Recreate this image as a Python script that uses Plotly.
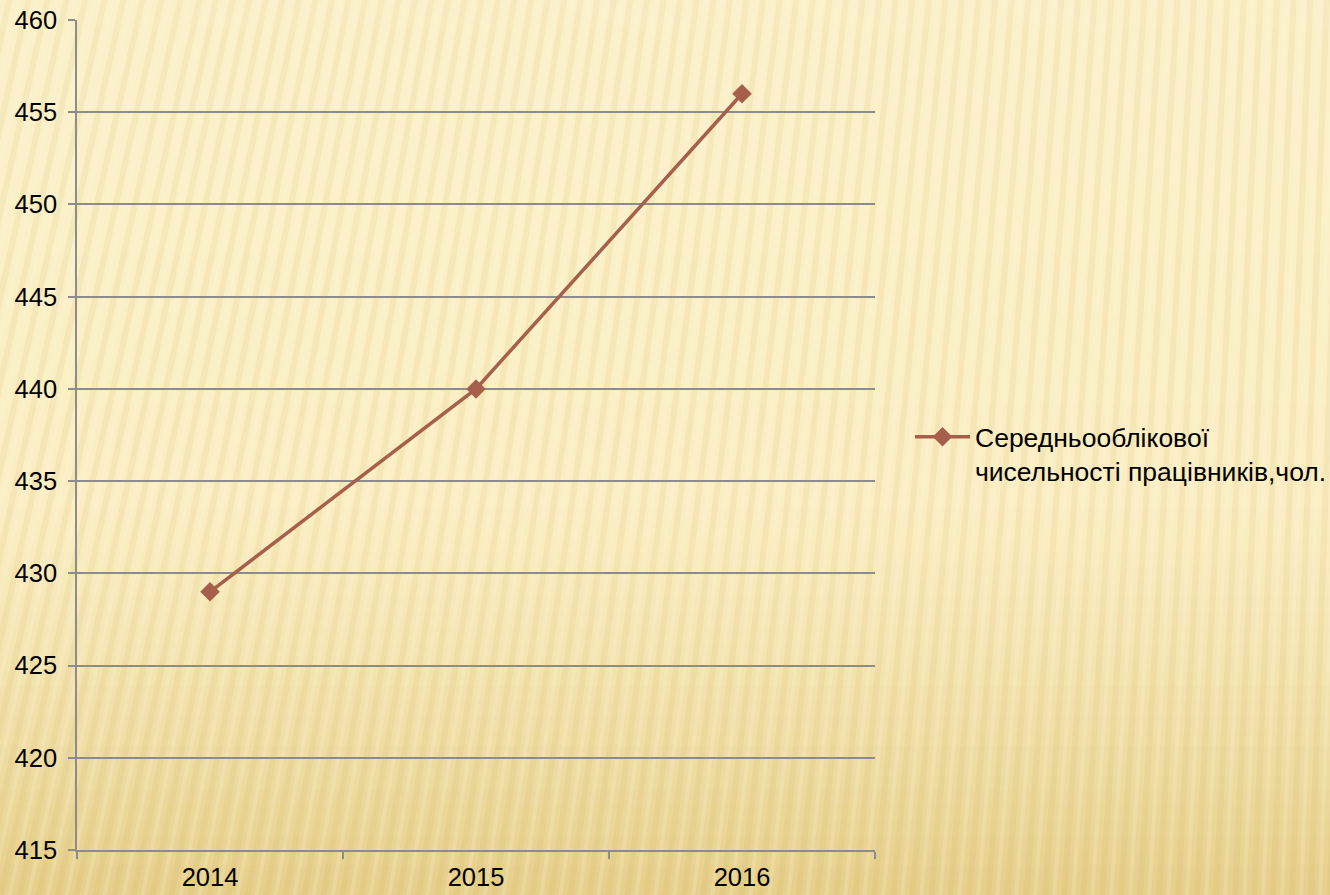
import plotly.graph_objects as go

years = ["2014", "2015", "2016"]
values = [429, 440, 456]
series_name = "Середньооблікової<br>чисельності працівників,чол."
y_ticks = [415, 420, 425, 430, 435, 440, 445, 450, 455, 460]

W, H = 1330, 895
ML, MR, MT, MB = 77, 455, 20, 45
PW, PH = W - ML - MR, H - MT - MB

def px_to_paper_x(px):
    return (px - ML) / PW

def px_to_paper_y(py):
    return (H - MB - py) / PH

def lerp(c1, c2, t):
    return tuple(round(a + (b - a) * t) for a, b in zip(c1, c2))

top = (251, 241, 201)
mid = (251, 238, 194)
bot = (230, 207, 138)

shapes = []
n = 60
for i in range(n):
    y0 = H * i / n - (3 if i == 0 else 0)
    y1 = H * (i + 1) / n + (4 if i == n - 1 else 1)
    t = (i + 0.5) / n
    if t < 0.55:
        c = lerp(top, mid, t / 0.55)
    else:
        c = lerp(mid, bot, ((t - 0.55) / 0.45) ** 1.3)
    shapes.append(dict(type="rect", xref="paper", yref="paper",
                       x0=px_to_paper_x(-4), x1=px_to_paper_x(W + 4),
                       y0=px_to_paper_y(y1), y1=px_to_paper_y(y0),
                       fillcolor="rgb(%d,%d,%d)" % c, line=dict(width=0),
                       layer="below"))

# faint tilted stripes (background texture)
step = 19
for k in range(-20, int(W / step) + 5):
    xb = k * step
    frac = min(max(xb / W, 0), 1)
    slant = 200 * (1 - frac) + 30 * frac
    xt = xb + slant
    shapes.append(dict(type="line", xref="paper", yref="paper",
                       x0=px_to_paper_x(xb), y0=px_to_paper_y(H + 3),
                       x1=px_to_paper_x(xt), y1=px_to_paper_y(-3),
                       line=dict(color="rgba(200,170,90,0.10)", width=6),
                       layer="below"))
    shapes.append(dict(type="line", xref="paper", yref="paper",
                       x0=px_to_paper_x(xb + 9), y0=px_to_paper_y(H + 3),
                       x1=px_to_paper_x(xt + 9), y1=px_to_paper_y(-3),
                       line=dict(color="rgba(255,250,225,0.18)", width=4),
                       layer="below"))

line_color = "#A65F4B"
grid_color = "#8C8C8C"

fig = go.Figure()
fig.add_trace(go.Scatter(
    x=years, y=values, mode="lines+markers", name=series_name,
    line=dict(color=line_color, width=3.5),
    marker=dict(symbol="diamond", size=15, color=line_color),
))

fig.update_layout(
    width=W, height=H,
    margin=dict(l=ML, r=MR, t=MT, b=MB, pad=0, autoexpand=False),
    paper_bgcolor="#F5E3A8",
    plot_bgcolor="rgba(0,0,0,0)",
    font=dict(family="Liberation Sans, Arial, sans-serif", size=25, color="#000000"),
    shapes=shapes,
    showlegend=True,
    legend=dict(x=px_to_paper_x(910), y=px_to_paper_y(413), xanchor="left", yanchor="top",
                bgcolor="rgba(0,0,0,0)", font=dict(size=26.5), itemwidth=55,
                valign="top", tracegroupgap=0),
    xaxis=dict(type="category", tickson="boundaries", ticks="outside", ticklen=7,
               range=[-0.5, 2.5], automargin=False, ticklabelstandoff=4,
               tickcolor=grid_color, tickwidth=1.5,
               showline=True, linecolor=grid_color, linewidth=1.5,
               showgrid=False, zeroline=False, tickfont=dict(size=25.5)),
    yaxis=dict(range=[415, 460], tickvals=y_ticks, ticks="outside", ticklen=7,
               automargin=False, ticklabelstandoff=6,
               tickcolor=grid_color, tickwidth=1.5,
               showline=True, linecolor=grid_color, linewidth=1.5,
               showgrid=True, gridcolor=grid_color, gridwidth=1.5,
               zeroline=False, tickfont=dict(size=25.5)),
)

fig.write_html("out.html", config={"displayModeBar": False},
               post_script="document.body.style.margin='0';document.body.style.overflow='hidden';")
